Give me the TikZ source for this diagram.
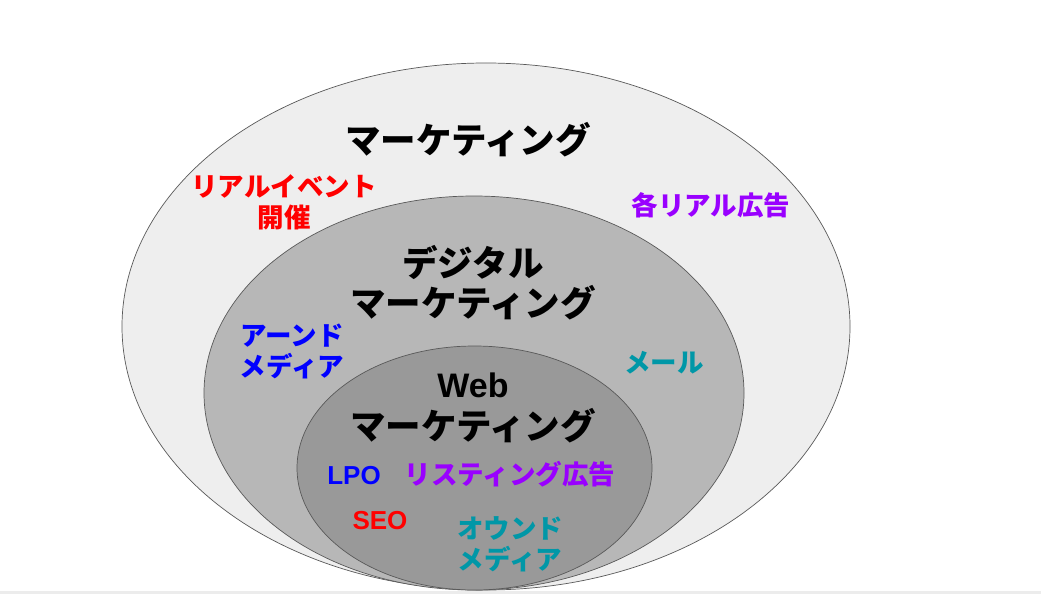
\documentclass[tikz,border=0pt]{standalone}
\usepackage{fontspec}
\newfontfamily\cjk{Noto Sans CJK JP}
\setmainfont{Liberation Sans}
\definecolor{ringA}{HTML}{EEEEEE}
\definecolor{ringB}{HTML}{B7B7B7}
\definecolor{ringC}{HTML}{999999}
\definecolor{edge}{HTML}{595959}
\definecolor{myred}{HTML}{FF0000}
\definecolor{myblue}{HTML}{0000FF}
\definecolor{mypurple}{HTML}{9900FF}
\definecolor{myteal}{HTML}{0097A7}
\definecolor{strip}{HTML}{ECECEC}
\tikzset{
  ring/.style={draw=edge, line width=0.7pt},
  title/.style={font=\cjk\bfseries\fontsize{35.5}{40}\selectfont, align=center, inner sep=0pt, text=black},
  lbl/.style={font=\cjk\bfseries\fontsize{26.5}{31}\selectfont, align=center, inner sep=0pt},
  lat/.style={font=\bfseries\fontsize{26}{31}\selectfont, inner sep=0pt},
}
\begin{document}
\begin{tikzpicture}[x=1pt,y=-1pt]
\useasboundingbox (0,0) rectangle (1041,594);
\fill[white] (0,0) rectangle (1041,594);
\fill[strip] (0,590.5) rectangle (1041,594);
% ellipses
\draw[ring, fill=ringA] (486,326.5) ellipse [x radius=364, y radius=263.5];
\draw[ring, fill=ringB] (474,393) ellipse [x radius=270, y radius=197];
\draw[ring, fill=ringC] (474.5,468) ellipse [x radius=177.5, y radius=122];
% titles
\node[title] (t1) at (468,140) {マーケティング};
\node[title] (t2) at (473,283) {デジタル\\マーケティング};
\node[title] (t3w) at (473,385) {\fontspec{Liberation Sans}\bfseries\fontsize{34}{40}\selectfont Web};
\node[title] (t3) at (473,426) {マーケティング};
% labels
\node[lbl, text=myred] (real) at (284,202) {リアルイベント\\開催};
\node[lbl, text=mypurple] (ad) at (711,205) {各リアル広告};
\node[lbl, text=myblue] (earned) at (292,351) {アーンド\\メディア};
\node[lbl, text=myteal] (mail) at (664,363) {メール};
\node[lat, text=myblue] (lpo) at (354,476) {LPO};
\node[lbl, text=mypurple] (listing) at (510,474) {リスティング広告};
\node[lat, text=myred] (seo) at (380,521) {SEO};
\node[lbl, text=myteal] (owned) at (510,544) {オウンド\\メディア};
\end{tikzpicture}
\end{document}
